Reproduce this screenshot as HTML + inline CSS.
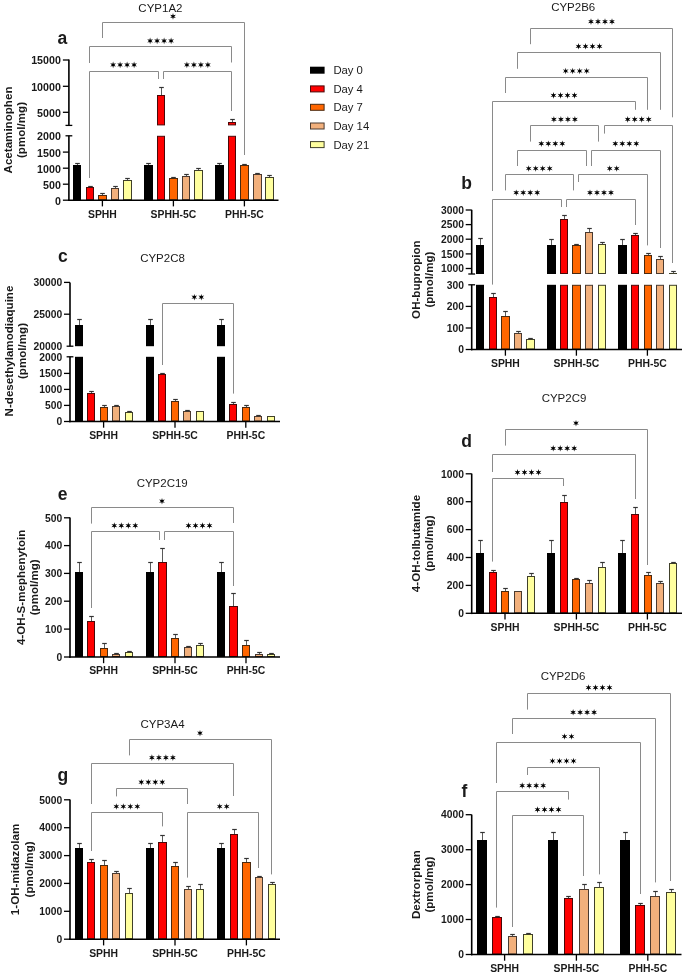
<!DOCTYPE html>
<html><head><meta charset="utf-8"><style>
html,body{margin:0;padding:0;background:#fff;}
body{width:685px;height:978px;overflow:hidden;}
svg{display:block;will-change:transform;font-family:"Liberation Sans",sans-serif;fill:#000;}
svg text{fill:#1a1a1a;}
</style></head><body>
<svg width="685" height="978" viewBox="0 0 685 978">
<rect width="685" height="978" fill="#fff"/>
<rect x="73" y="165" width="8" height="35.2" fill="#000000"/>
<line x1="77.5" y1="163.5" x2="77.5" y2="165" stroke="#5a5a5a" stroke-width="1"/>
<line x1="75.2" y1="163.5" x2="79.8" y2="163.5" stroke="#333333" stroke-width="1.2"/>
<rect x="86.5" y="187.5" width="7" height="12.2" fill="#ff0000" stroke="#4a0808" stroke-width="1"/>
<line x1="90.5" y1="186.5" x2="90.5" y2="187" stroke="#5a5a5a" stroke-width="1"/>
<line x1="88.2" y1="186.5" x2="92.8" y2="186.5" stroke="#333333" stroke-width="1.2"/>
<rect x="98.5" y="195.5" width="8" height="4.2" fill="#ff6600" stroke="#4a2a10" stroke-width="1"/>
<line x1="102.5" y1="193.5" x2="102.5" y2="195" stroke="#5a5a5a" stroke-width="1"/>
<line x1="100.2" y1="193.5" x2="104.8" y2="193.5" stroke="#333333" stroke-width="1.2"/>
<rect x="111.5" y="188.5" width="7" height="11.2" fill="#f2b07c" stroke="#4a3a30" stroke-width="1"/>
<line x1="115.5" y1="186.5" x2="115.5" y2="188" stroke="#5a5a5a" stroke-width="1"/>
<line x1="113.2" y1="186.5" x2="117.8" y2="186.5" stroke="#333333" stroke-width="1.2"/>
<rect x="123.5" y="180.5" width="8" height="19.2" fill="#ffff9e" stroke="#40402a" stroke-width="1"/>
<line x1="127.5" y1="178.5" x2="127.5" y2="180" stroke="#5a5a5a" stroke-width="1"/>
<line x1="125.2" y1="178.5" x2="129.8" y2="178.5" stroke="#333333" stroke-width="1.2"/>
<rect x="144" y="165" width="9" height="35.2" fill="#000000"/>
<line x1="148.5" y1="163.5" x2="148.5" y2="165" stroke="#5a5a5a" stroke-width="1"/>
<line x1="146.2" y1="163.5" x2="150.8" y2="163.5" stroke="#333333" stroke-width="1.2"/>
<rect x="157.5" y="136.3" width="7" height="63.4" fill="#ff0000" stroke="#4a0808" stroke-width="1"/>
<rect x="157.5" y="95.5" width="7" height="29.4" fill="#ff0000" stroke="#4a0808" stroke-width="1"/>
<line x1="161.5" y1="87.5" x2="161.5" y2="95" stroke="#5a5a5a" stroke-width="1"/>
<line x1="159.2" y1="87.5" x2="163.8" y2="87.5" stroke="#333333" stroke-width="1.2"/>
<rect x="169.5" y="178.5" width="8" height="21.2" fill="#ff6600" stroke="#4a2a10" stroke-width="1"/>
<line x1="173.5" y1="177.5" x2="173.5" y2="178" stroke="#5a5a5a" stroke-width="1"/>
<line x1="171.2" y1="177.5" x2="175.8" y2="177.5" stroke="#333333" stroke-width="1.2"/>
<rect x="182.5" y="176.5" width="7" height="23.2" fill="#f2b07c" stroke="#4a3a30" stroke-width="1"/>
<line x1="186.5" y1="174.5" x2="186.5" y2="176" stroke="#5a5a5a" stroke-width="1"/>
<line x1="184.2" y1="174.5" x2="188.8" y2="174.5" stroke="#333333" stroke-width="1.2"/>
<rect x="194.5" y="170.5" width="8" height="29.2" fill="#ffff9e" stroke="#40402a" stroke-width="1"/>
<line x1="198.5" y1="168.5" x2="198.5" y2="170" stroke="#5a5a5a" stroke-width="1"/>
<line x1="196.2" y1="168.5" x2="200.8" y2="168.5" stroke="#333333" stroke-width="1.2"/>
<rect x="215" y="165" width="9" height="35.2" fill="#000000"/>
<line x1="219.5" y1="163.5" x2="219.5" y2="165" stroke="#5a5a5a" stroke-width="1"/>
<line x1="217.2" y1="163.5" x2="221.8" y2="163.5" stroke="#333333" stroke-width="1.2"/>
<rect x="228.5" y="136.3" width="7" height="63.4" fill="#ff0000" stroke="#4a0808" stroke-width="1"/>
<rect x="228.5" y="122.5" width="7" height="2.4" fill="#ff0000" stroke="#4a0808" stroke-width="1"/>
<line x1="232.5" y1="119.5" x2="232.5" y2="122" stroke="#5a5a5a" stroke-width="1"/>
<line x1="230.2" y1="119.5" x2="234.8" y2="119.5" stroke="#333333" stroke-width="1.2"/>
<rect x="240.5" y="165.5" width="8" height="34.2" fill="#ff6600" stroke="#4a2a10" stroke-width="1"/>
<line x1="244.5" y1="164.5" x2="244.5" y2="165" stroke="#5a5a5a" stroke-width="1"/>
<line x1="242.2" y1="164.5" x2="246.8" y2="164.5" stroke="#333333" stroke-width="1.2"/>
<rect x="253.5" y="174.5" width="8" height="25.2" fill="#f2b07c" stroke="#4a3a30" stroke-width="1"/>
<line x1="257.5" y1="173.5" x2="257.5" y2="174" stroke="#5a5a5a" stroke-width="1"/>
<line x1="255.2" y1="173.5" x2="259.8" y2="173.5" stroke="#333333" stroke-width="1.2"/>
<rect x="265.5" y="177.5" width="8" height="22.2" fill="#ffff9e" stroke="#40402a" stroke-width="1"/>
<line x1="269.5" y1="175.5" x2="269.5" y2="177" stroke="#5a5a5a" stroke-width="1"/>
<line x1="267.2" y1="175.5" x2="271.8" y2="175.5" stroke="#333333" stroke-width="1.2"/>
<line x1="68.9" y1="59.6" x2="68.9" y2="125.4" stroke="#000" stroke-width="1.6"/>
<line x1="68.9" y1="135.8" x2="68.9" y2="201" stroke="#000" stroke-width="1.6"/>
<line x1="65.5" y1="125.4" x2="72.3" y2="125.4" stroke="#000" stroke-width="1.3"/>
<line x1="65.5" y1="135.8" x2="72.3" y2="135.8" stroke="#000" stroke-width="1.3"/>
<line x1="68.1" y1="200.2" x2="278.5" y2="200.2" stroke="#000" stroke-width="1.6"/>
<line x1="62.9" y1="60" x2="68.9" y2="60" stroke="#000" stroke-width="1.3"/>
<text x="60.9" y="64.4" font-size="10.7" text-anchor="end" font-weight="bold">15000</text>
<line x1="62.9" y1="86.3" x2="68.9" y2="86.3" stroke="#000" stroke-width="1.3"/>
<text x="60.9" y="90.7" font-size="10.7" text-anchor="end" font-weight="bold">10000</text>
<line x1="62.9" y1="112.3" x2="68.9" y2="112.3" stroke="#000" stroke-width="1.3"/>
<text x="60.9" y="116.7" font-size="10.7" text-anchor="end" font-weight="bold">5000</text>
<text x="60.9" y="140.2" font-size="10.7" text-anchor="end" font-weight="bold">2000</text>
<line x1="62.9" y1="152.1" x2="68.9" y2="152.1" stroke="#000" stroke-width="1.3"/>
<text x="60.9" y="156.5" font-size="10.7" text-anchor="end" font-weight="bold">1500</text>
<line x1="62.9" y1="168.2" x2="68.9" y2="168.2" stroke="#000" stroke-width="1.3"/>
<text x="60.9" y="172.6" font-size="10.7" text-anchor="end" font-weight="bold">1000</text>
<line x1="62.9" y1="184.2" x2="68.9" y2="184.2" stroke="#000" stroke-width="1.3"/>
<text x="60.9" y="188.6" font-size="10.7" text-anchor="end" font-weight="bold">500</text>
<line x1="62.9" y1="200.2" x2="68.9" y2="200.2" stroke="#000" stroke-width="1.3"/>
<text x="60.9" y="204.6" font-size="10.7" text-anchor="end" font-weight="bold">0</text>
<line x1="102.4" y1="200.2" x2="102.4" y2="206.4" stroke="#000" stroke-width="1.3"/>
<text x="102.4" y="217.6" font-size="10.4" text-anchor="middle" font-weight="bold">SPHH</text>
<line x1="173.4" y1="200.2" x2="173.4" y2="206.4" stroke="#000" stroke-width="1.3"/>
<text x="173.4" y="217.6" font-size="10.4" text-anchor="middle" font-weight="bold">SPHH-5C</text>
<line x1="244.4" y1="200.2" x2="244.4" y2="206.4" stroke="#000" stroke-width="1.3"/>
<text x="244.4" y="217.6" font-size="10.4" text-anchor="middle" font-weight="bold">PHH-5C</text>
<path d="M102.5 38V22.5H244.5V155" stroke="#8a8a8a" stroke-width="1" fill="none"/>
<polygon points="173,13.1 172.38,15.32 170.14,14.75 171.75,16.4 170.14,18.05 172.38,17.48 173,19.7 173.62,17.48 175.86,18.05 174.25,16.4 175.86,14.75 173.62,15.32" fill="#000"/>
<path d="M89.5 63V46.5H231.5V62.5" stroke="#8a8a8a" stroke-width="1" fill="none"/>
<polygon points="150.1,37.6 149.47,39.82 147.24,39.25 148.85,40.9 147.24,42.55 149.47,41.98 150.1,44.2 150.72,41.98 152.96,42.55 151.35,40.9 152.96,39.25 150.72,39.82" fill="#000"/>
<polygon points="157.1,37.6 156.47,39.82 154.24,39.25 155.85,40.9 154.24,42.55 156.47,41.98 157.1,44.2 157.72,41.98 159.96,42.55 158.35,40.9 159.96,39.25 157.72,39.82" fill="#000"/>
<polygon points="164.1,37.6 163.47,39.82 161.24,39.25 162.85,40.9 161.24,42.55 163.47,41.98 164.1,44.2 164.72,41.98 166.96,42.55 165.35,40.9 166.96,39.25 164.72,39.82" fill="#000"/>
<polygon points="171.1,37.6 170.47,39.82 168.24,39.25 169.85,40.9 168.24,42.55 170.47,41.98 171.1,44.2 171.72,41.98 173.96,42.55 172.35,40.9 173.96,39.25 171.72,39.82" fill="#000"/>
<path d="M89.5 178V71.5H158.5V79" stroke="#8a8a8a" stroke-width="1" fill="none"/>
<polygon points="113.1,61.6 112.47,63.82 110.24,63.25 111.85,64.9 110.24,66.55 112.47,65.98 113.1,68.2 113.72,65.98 115.96,66.55 114.35,64.9 115.96,63.25 113.72,63.82" fill="#000"/>
<polygon points="120.1,61.6 119.47,63.82 117.24,63.25 118.85,64.9 117.24,66.55 119.47,65.98 120.1,68.2 120.72,65.98 122.96,66.55 121.35,64.9 122.96,63.25 120.72,63.82" fill="#000"/>
<polygon points="127.1,61.6 126.47,63.82 124.24,63.25 125.85,64.9 124.24,66.55 126.47,65.98 127.1,68.2 127.72,65.98 129.96,66.55 128.35,64.9 129.96,63.25 127.72,63.82" fill="#000"/>
<polygon points="134.1,61.6 133.47,63.82 131.24,63.25 132.85,64.9 131.24,66.55 133.47,65.98 134.1,68.2 134.72,65.98 136.96,66.55 135.35,64.9 136.96,63.25 134.72,63.82" fill="#000"/>
<path d="M163.5 79V71.5H231.5V111" stroke="#8a8a8a" stroke-width="1" fill="none"/>
<polygon points="186.9,61.6 186.28,63.82 184.04,63.25 185.65,64.9 184.04,66.55 186.28,65.98 186.9,68.2 187.53,65.98 189.76,66.55 188.15,64.9 189.76,63.25 187.53,63.82" fill="#000"/>
<polygon points="193.9,61.6 193.28,63.82 191.04,63.25 192.65,64.9 191.04,66.55 193.28,65.98 193.9,68.2 194.53,65.98 196.76,66.55 195.15,64.9 196.76,63.25 194.53,63.82" fill="#000"/>
<polygon points="200.9,61.6 200.28,63.82 198.04,63.25 199.65,64.9 198.04,66.55 200.28,65.98 200.9,68.2 201.53,65.98 203.76,66.55 202.15,64.9 203.76,63.25 201.53,63.82" fill="#000"/>
<polygon points="207.9,61.6 207.28,63.82 205.04,63.25 206.65,64.9 205.04,66.55 207.28,65.98 207.9,68.2 208.53,65.98 210.76,66.55 209.15,64.9 210.76,63.25 208.53,63.82" fill="#000"/>
<text x="160.4" y="11.5" font-size="11.5" text-anchor="middle">CYP1A2</text>
<text x="57.6" y="44" font-size="17.5" text-anchor="start" font-weight="bold">a</text>
<text transform="translate(11.5,130) rotate(-90)" font-size="11.6" text-anchor="middle" font-weight="bold">Acetaminophen</text>
<text transform="translate(24.5,130) rotate(-90)" font-size="11.6" text-anchor="middle" font-weight="bold">(pmol/mg)</text>
<rect x="476" y="284.8" width="8" height="64.7" fill="#000000"/>
<rect x="476" y="245" width="8" height="29" fill="#000000"/>
<line x1="480.5" y1="238.5" x2="480.5" y2="245" stroke="#5a5a5a" stroke-width="1"/>
<line x1="478.2" y1="238.5" x2="482.8" y2="238.5" stroke="#333333" stroke-width="1.2"/>
<rect x="489.5" y="297.5" width="7" height="51.5" fill="#ff0000" stroke="#4a0808" stroke-width="1"/>
<line x1="493.5" y1="293.5" x2="493.5" y2="297" stroke="#5a5a5a" stroke-width="1"/>
<line x1="491.2" y1="293.5" x2="495.8" y2="293.5" stroke="#333333" stroke-width="1.2"/>
<rect x="501.5" y="316.5" width="8" height="32.5" fill="#ff6600" stroke="#4a2a10" stroke-width="1"/>
<line x1="505.5" y1="311.5" x2="505.5" y2="316" stroke="#5a5a5a" stroke-width="1"/>
<line x1="503.2" y1="311.5" x2="507.8" y2="311.5" stroke="#333333" stroke-width="1.2"/>
<rect x="514.5" y="333.5" width="7" height="15.5" fill="#f2b07c" stroke="#4a3a30" stroke-width="1"/>
<line x1="518.5" y1="331.5" x2="518.5" y2="333" stroke="#5a5a5a" stroke-width="1"/>
<line x1="516.2" y1="331.5" x2="520.8" y2="331.5" stroke="#333333" stroke-width="1.2"/>
<rect x="526.5" y="339.5" width="8" height="9.5" fill="#ffff9e" stroke="#40402a" stroke-width="1"/>
<line x1="530.5" y1="338.5" x2="530.5" y2="339" stroke="#5a5a5a" stroke-width="1"/>
<line x1="528.2" y1="338.5" x2="532.8" y2="338.5" stroke="#333333" stroke-width="1.2"/>
<rect x="547" y="284.8" width="9" height="64.7" fill="#000000"/>
<rect x="547" y="245" width="9" height="29" fill="#000000"/>
<line x1="551.5" y1="239.5" x2="551.5" y2="245" stroke="#5a5a5a" stroke-width="1"/>
<line x1="549.2" y1="239.5" x2="553.8" y2="239.5" stroke="#333333" stroke-width="1.2"/>
<rect x="560.5" y="285.3" width="7" height="63.7" fill="#ff0000" stroke="#4a0808" stroke-width="1"/>
<rect x="560.5" y="219.5" width="7" height="54" fill="#ff0000" stroke="#4a0808" stroke-width="1"/>
<line x1="564.5" y1="215.5" x2="564.5" y2="219" stroke="#5a5a5a" stroke-width="1"/>
<line x1="562.2" y1="215.5" x2="566.8" y2="215.5" stroke="#333333" stroke-width="1.2"/>
<rect x="572.5" y="285.3" width="8" height="63.7" fill="#ff6600" stroke="#4a2a10" stroke-width="1"/>
<rect x="572.5" y="245.5" width="8" height="28" fill="#ff6600" stroke="#4a2a10" stroke-width="1"/>
<line x1="576.5" y1="244.5" x2="576.5" y2="245" stroke="#5a5a5a" stroke-width="1"/>
<line x1="574.2" y1="244.5" x2="578.8" y2="244.5" stroke="#333333" stroke-width="1.2"/>
<rect x="585.5" y="285.3" width="7" height="63.7" fill="#f2b07c" stroke="#4a3a30" stroke-width="1"/>
<rect x="585.5" y="232.5" width="7" height="41" fill="#f2b07c" stroke="#4a3a30" stroke-width="1"/>
<line x1="589.5" y1="228.5" x2="589.5" y2="232" stroke="#5a5a5a" stroke-width="1"/>
<line x1="587.2" y1="228.5" x2="591.8" y2="228.5" stroke="#333333" stroke-width="1.2"/>
<rect x="598.5" y="285.3" width="7" height="63.7" fill="#ffff9e" stroke="#40402a" stroke-width="1"/>
<rect x="598.5" y="244.5" width="7" height="29" fill="#ffff9e" stroke="#40402a" stroke-width="1"/>
<line x1="602.5" y1="242.5" x2="602.5" y2="244" stroke="#5a5a5a" stroke-width="1"/>
<line x1="600.2" y1="242.5" x2="604.8" y2="242.5" stroke="#333333" stroke-width="1.2"/>
<rect x="618" y="284.8" width="9" height="64.7" fill="#000000"/>
<rect x="618" y="245" width="9" height="29" fill="#000000"/>
<line x1="622.5" y1="239.5" x2="622.5" y2="245" stroke="#5a5a5a" stroke-width="1"/>
<line x1="620.2" y1="239.5" x2="624.8" y2="239.5" stroke="#333333" stroke-width="1.2"/>
<rect x="631.5" y="285.3" width="7" height="63.7" fill="#ff0000" stroke="#4a0808" stroke-width="1"/>
<rect x="631.5" y="235.5" width="7" height="38" fill="#ff0000" stroke="#4a0808" stroke-width="1"/>
<line x1="635.5" y1="233.5" x2="635.5" y2="235" stroke="#5a5a5a" stroke-width="1"/>
<line x1="633.2" y1="233.5" x2="637.8" y2="233.5" stroke="#333333" stroke-width="1.2"/>
<rect x="644.5" y="285.3" width="7" height="63.7" fill="#ff6600" stroke="#4a2a10" stroke-width="1"/>
<rect x="644.5" y="255.5" width="7" height="18" fill="#ff6600" stroke="#4a2a10" stroke-width="1"/>
<line x1="648.5" y1="253.5" x2="648.5" y2="255" stroke="#5a5a5a" stroke-width="1"/>
<line x1="646.2" y1="253.5" x2="650.8" y2="253.5" stroke="#333333" stroke-width="1.2"/>
<rect x="656.5" y="285.3" width="7" height="63.7" fill="#f2b07c" stroke="#4a3a30" stroke-width="1"/>
<rect x="656.5" y="259.5" width="7" height="14" fill="#f2b07c" stroke="#4a3a30" stroke-width="1"/>
<line x1="660.5" y1="256.5" x2="660.5" y2="259" stroke="#5a5a5a" stroke-width="1"/>
<line x1="658.2" y1="256.5" x2="662.8" y2="256.5" stroke="#333333" stroke-width="1.2"/>
<rect x="669.5" y="285.3" width="7" height="63.7" fill="#ffff9e" stroke="#40402a" stroke-width="1"/>
<rect x="669.5" y="273.5" width="7" height="0.01" fill="#ffff9e" stroke="#40402a" stroke-width="1"/>
<line x1="673.5" y1="271.5" x2="673.5" y2="273" stroke="#5a5a5a" stroke-width="1"/>
<line x1="671.2" y1="271.5" x2="675.8" y2="271.5" stroke="#333333" stroke-width="1.2"/>
<line x1="471.7" y1="209.8" x2="471.7" y2="274" stroke="#000" stroke-width="1.6"/>
<line x1="471.7" y1="284.8" x2="471.7" y2="350.3" stroke="#000" stroke-width="1.6"/>
<line x1="468.3" y1="274" x2="475.1" y2="274" stroke="#000" stroke-width="1.3"/>
<line x1="468.3" y1="284.8" x2="475.1" y2="284.8" stroke="#000" stroke-width="1.3"/>
<line x1="470.9" y1="349.5" x2="682" y2="349.5" stroke="#000" stroke-width="1.6"/>
<line x1="465.7" y1="210" x2="471.7" y2="210" stroke="#000" stroke-width="1.3"/>
<text x="463.9" y="213.7" font-size="10.3" text-anchor="end" font-weight="bold">3000</text>
<line x1="465.7" y1="224.6" x2="471.7" y2="224.6" stroke="#000" stroke-width="1.3"/>
<text x="463.9" y="228.3" font-size="10.3" text-anchor="end" font-weight="bold">2500</text>
<line x1="465.7" y1="239.2" x2="471.7" y2="239.2" stroke="#000" stroke-width="1.3"/>
<text x="463.9" y="242.9" font-size="10.3" text-anchor="end" font-weight="bold">2000</text>
<line x1="465.7" y1="253.9" x2="471.7" y2="253.9" stroke="#000" stroke-width="1.3"/>
<text x="463.9" y="257.6" font-size="10.3" text-anchor="end" font-weight="bold">1500</text>
<line x1="465.7" y1="268.5" x2="471.7" y2="268.5" stroke="#000" stroke-width="1.3"/>
<text x="463.9" y="272.2" font-size="10.3" text-anchor="end" font-weight="bold">1000</text>
<text x="463.9" y="288.5" font-size="10.3" text-anchor="end" font-weight="bold">300</text>
<line x1="465.7" y1="306.4" x2="471.7" y2="306.4" stroke="#000" stroke-width="1.3"/>
<text x="463.9" y="310.1" font-size="10.3" text-anchor="end" font-weight="bold">200</text>
<line x1="465.7" y1="328" x2="471.7" y2="328" stroke="#000" stroke-width="1.3"/>
<text x="463.9" y="331.7" font-size="10.3" text-anchor="end" font-weight="bold">100</text>
<line x1="465.7" y1="349.5" x2="471.7" y2="349.5" stroke="#000" stroke-width="1.3"/>
<text x="463.9" y="353.2" font-size="10.3" text-anchor="end" font-weight="bold">0</text>
<line x1="505.4" y1="349.5" x2="505.4" y2="355.7" stroke="#000" stroke-width="1.3"/>
<text x="505.4" y="366.9" font-size="10.4" text-anchor="middle" font-weight="bold">SPHH</text>
<line x1="576.4" y1="349.5" x2="576.4" y2="355.7" stroke="#000" stroke-width="1.3"/>
<text x="576.4" y="366.9" font-size="10.4" text-anchor="middle" font-weight="bold">SPHH-5C</text>
<line x1="647.4" y1="349.5" x2="647.4" y2="355.7" stroke="#000" stroke-width="1.3"/>
<text x="647.4" y="366.9" font-size="10.4" text-anchor="middle" font-weight="bold">PHH-5C</text>
<path d="M530.5 44.2V28.5H672.5V117.3" stroke="#8a8a8a" stroke-width="1" fill="none"/>
<polygon points="591,18.3 590.38,20.52 588.14,19.95 589.75,21.6 588.14,23.25 590.38,22.68 591,24.9 591.62,22.68 593.86,23.25 592.25,21.6 593.86,19.95 591.62,20.52" fill="#000"/>
<polygon points="598,18.3 597.38,20.52 595.14,19.95 596.75,21.6 595.14,23.25 597.38,22.68 598,24.9 598.62,22.68 600.86,23.25 599.25,21.6 600.86,19.95 598.62,20.52" fill="#000"/>
<polygon points="605,18.3 604.38,20.52 602.14,19.95 603.75,21.6 602.14,23.25 604.38,22.68 605,24.9 605.62,22.68 607.86,23.25 606.25,21.6 607.86,19.95 605.62,20.52" fill="#000"/>
<polygon points="612,18.3 611.38,20.52 609.14,19.95 610.75,21.6 609.14,23.25 611.38,22.68 612,24.9 612.62,22.68 614.86,23.25 613.25,21.6 614.86,19.95 612.62,20.52" fill="#000"/>
<path d="M517.5 68.8V52.5H660.5V109.8" stroke="#8a8a8a" stroke-width="1" fill="none"/>
<polygon points="578.5,43 577.88,45.22 575.64,44.65 577.25,46.3 575.64,47.95 577.88,47.38 578.5,49.6 579.12,47.38 581.36,47.95 579.75,46.3 581.36,44.65 579.12,45.22" fill="#000"/>
<polygon points="585.5,43 584.88,45.22 582.64,44.65 584.25,46.3 582.64,47.95 584.88,47.38 585.5,49.6 586.12,47.38 588.36,47.95 586.75,46.3 588.36,44.65 586.12,45.22" fill="#000"/>
<polygon points="592.5,43 591.88,45.22 589.64,44.65 591.25,46.3 589.64,47.95 591.88,47.38 592.5,49.6 593.12,47.38 595.36,47.95 593.75,46.3 595.36,44.65 593.12,45.22" fill="#000"/>
<polygon points="599.5,43 598.88,45.22 596.64,44.65 598.25,46.3 596.64,47.95 598.88,47.38 599.5,49.6 600.12,47.38 602.36,47.95 600.75,46.3 602.36,44.65 600.12,45.22" fill="#000"/>
<path d="M505.5 93V77.5H647.5V109.8" stroke="#8a8a8a" stroke-width="1" fill="none"/>
<polygon points="565.7,67.7 565.08,69.92 562.84,69.35 564.45,71 562.84,72.65 565.08,72.08 565.7,74.3 566.33,72.08 568.56,72.65 566.95,71 568.56,69.35 566.33,69.92" fill="#000"/>
<polygon points="572.7,67.7 572.08,69.92 569.84,69.35 571.45,71 569.84,72.65 572.08,72.08 572.7,74.3 573.33,72.08 575.56,72.65 573.95,71 575.56,69.35 573.33,69.92" fill="#000"/>
<polygon points="579.7,67.7 579.08,69.92 576.84,69.35 578.45,71 576.84,72.65 579.08,72.08 579.7,74.3 580.33,72.08 582.56,72.65 580.95,71 582.56,69.35 580.33,69.92" fill="#000"/>
<polygon points="586.7,67.7 586.08,69.92 583.84,69.35 585.45,71 583.84,72.65 586.08,72.08 586.7,74.3 587.33,72.08 589.56,72.65 587.95,71 589.56,69.35 587.33,69.92" fill="#000"/>
<path d="M492.5 191V101.5H635.5V109.8" stroke="#8a8a8a" stroke-width="1" fill="none"/>
<polygon points="553.5,92.1 552.88,94.32 550.64,93.75 552.25,95.4 550.64,97.05 552.88,96.48 553.5,98.7 554.12,96.48 556.36,97.05 554.75,95.4 556.36,93.75 554.12,94.32" fill="#000"/>
<polygon points="560.5,92.1 559.88,94.32 557.64,93.75 559.25,95.4 557.64,97.05 559.88,96.48 560.5,98.7 561.12,96.48 563.36,97.05 561.75,95.4 563.36,93.75 561.12,94.32" fill="#000"/>
<polygon points="567.5,92.1 566.88,94.32 564.64,93.75 566.25,95.4 564.64,97.05 566.88,96.48 567.5,98.7 568.12,96.48 570.36,97.05 568.75,95.4 570.36,93.75 568.12,94.32" fill="#000"/>
<polygon points="574.5,92.1 573.88,94.32 571.64,93.75 573.25,95.4 571.64,97.05 573.88,96.48 574.5,98.7 575.12,96.48 577.36,97.05 575.75,95.4 577.36,93.75 575.12,94.32" fill="#000"/>
<path d="M530.5 141.6V125.5H598.5V141.6" stroke="#8a8a8a" stroke-width="1" fill="none"/>
<polygon points="553.9,116.1 553.27,118.32 551.04,117.75 552.65,119.4 551.04,121.05 553.27,120.48 553.9,122.7 554.52,120.48 556.76,121.05 555.15,119.4 556.76,117.75 554.52,118.32" fill="#000"/>
<polygon points="560.9,116.1 560.27,118.32 558.04,117.75 559.65,119.4 558.04,121.05 560.27,120.48 560.9,122.7 561.52,120.48 563.76,121.05 562.15,119.4 563.76,117.75 561.52,118.32" fill="#000"/>
<polygon points="567.9,116.1 567.27,118.32 565.04,117.75 566.65,119.4 565.04,121.05 567.27,120.48 567.9,122.7 568.52,120.48 570.76,121.05 569.15,119.4 570.76,117.75 568.52,118.32" fill="#000"/>
<polygon points="574.9,116.1 574.27,118.32 572.04,117.75 573.65,119.4 572.04,121.05 574.27,120.48 574.9,122.7 575.52,120.48 577.76,121.05 576.15,119.4 577.76,117.75 575.52,118.32" fill="#000"/>
<path d="M604.5 133.6V125.5H672.5V263" stroke="#8a8a8a" stroke-width="1" fill="none"/>
<polygon points="627.7,116.1 627.08,118.32 624.84,117.75 626.45,119.4 624.84,121.05 627.08,120.48 627.7,122.7 628.33,120.48 630.56,121.05 628.95,119.4 630.56,117.75 628.33,118.32" fill="#000"/>
<polygon points="634.7,116.1 634.08,118.32 631.84,117.75 633.45,119.4 631.84,121.05 634.08,120.48 634.7,122.7 635.33,120.48 637.56,121.05 635.95,119.4 637.56,117.75 635.33,118.32" fill="#000"/>
<polygon points="641.7,116.1 641.08,118.32 638.84,117.75 640.45,119.4 638.84,121.05 641.08,120.48 641.7,122.7 642.33,120.48 644.56,121.05 642.95,119.4 644.56,117.75 642.33,118.32" fill="#000"/>
<polygon points="648.7,116.1 648.08,118.32 645.84,117.75 647.45,119.4 645.84,121.05 648.08,120.48 648.7,122.7 649.33,120.48 651.56,121.05 649.95,119.4 651.56,117.75 649.33,118.32" fill="#000"/>
<path d="M517.5 166V150.5H586.5V166" stroke="#8a8a8a" stroke-width="1" fill="none"/>
<polygon points="541.3,140.4 540.67,142.62 538.44,142.05 540.05,143.7 538.44,145.35 540.67,144.78 541.3,147 541.92,144.78 544.16,145.35 542.55,143.7 544.16,142.05 541.92,142.62" fill="#000"/>
<polygon points="548.3,140.4 547.67,142.62 545.44,142.05 547.05,143.7 545.44,145.35 547.67,144.78 548.3,147 548.92,144.78 551.16,145.35 549.55,143.7 551.16,142.05 548.92,142.62" fill="#000"/>
<polygon points="555.3,140.4 554.67,142.62 552.44,142.05 554.05,143.7 552.44,145.35 554.67,144.78 555.3,147 555.92,144.78 558.16,145.35 556.55,143.7 558.16,142.05 555.92,142.62" fill="#000"/>
<polygon points="562.3,140.4 561.67,142.62 559.44,142.05 561.05,143.7 559.44,145.35 561.67,144.78 562.3,147 562.92,144.78 565.16,145.35 563.55,143.7 565.16,142.05 562.92,142.62" fill="#000"/>
<path d="M591.5 166V150.5H660.5V248" stroke="#8a8a8a" stroke-width="1" fill="none"/>
<polygon points="615.3,140.4 614.67,142.62 612.44,142.05 614.05,143.7 612.44,145.35 614.67,144.78 615.3,147 615.92,144.78 618.16,145.35 616.55,143.7 618.16,142.05 615.92,142.62" fill="#000"/>
<polygon points="622.3,140.4 621.67,142.62 619.44,142.05 621.05,143.7 619.44,145.35 621.67,144.78 622.3,147 622.92,144.78 625.16,145.35 623.55,143.7 625.16,142.05 622.92,142.62" fill="#000"/>
<polygon points="629.3,140.4 628.67,142.62 626.44,142.05 628.05,143.7 626.44,145.35 628.67,144.78 629.3,147 629.92,144.78 632.16,145.35 630.55,143.7 632.16,142.05 629.92,142.62" fill="#000"/>
<polygon points="636.3,140.4 635.67,142.62 633.44,142.05 635.05,143.7 633.44,145.35 635.67,144.78 636.3,147 636.92,144.78 639.16,145.35 637.55,143.7 639.16,142.05 636.92,142.62" fill="#000"/>
<path d="M505.5 190.4V174.5H573.5V190.4" stroke="#8a8a8a" stroke-width="1" fill="none"/>
<polygon points="528.7,165.2 528.08,167.42 525.84,166.85 527.45,168.5 525.84,170.15 528.08,169.58 528.7,171.8 529.33,169.58 531.56,170.15 529.95,168.5 531.56,166.85 529.33,167.42" fill="#000"/>
<polygon points="535.7,165.2 535.08,167.42 532.84,166.85 534.45,168.5 532.84,170.15 535.08,169.58 535.7,171.8 536.33,169.58 538.56,170.15 536.95,168.5 538.56,166.85 536.33,167.42" fill="#000"/>
<polygon points="542.7,165.2 542.08,167.42 539.84,166.85 541.45,168.5 539.84,170.15 542.08,169.58 542.7,171.8 543.33,169.58 545.56,170.15 543.95,168.5 545.56,166.85 543.33,167.42" fill="#000"/>
<polygon points="549.7,165.2 549.08,167.42 546.84,166.85 548.45,168.5 546.84,170.15 549.08,169.58 549.7,171.8 550.33,169.58 552.56,170.15 550.95,168.5 552.56,166.85 550.33,167.42" fill="#000"/>
<path d="M578.5 182V174.5H647.5V245.4" stroke="#8a8a8a" stroke-width="1" fill="none"/>
<polygon points="609.7,165.2 609.08,167.42 606.84,166.85 608.45,168.5 606.84,170.15 609.08,169.58 609.7,171.8 610.33,169.58 612.56,170.15 610.95,168.5 612.56,166.85 610.33,167.42" fill="#000"/>
<polygon points="616.7,165.2 616.08,167.42 613.84,166.85 615.45,168.5 613.84,170.15 616.08,169.58 616.7,171.8 617.33,169.58 619.56,170.15 617.95,168.5 619.56,166.85 617.33,167.42" fill="#000"/>
<path d="M492.5 284.6V199.5H561.5V207" stroke="#8a8a8a" stroke-width="1" fill="none"/>
<polygon points="516.2,189.4 515.58,191.62 513.34,191.05 514.95,192.7 513.34,194.35 515.58,193.78 516.2,196 516.83,193.78 519.06,194.35 517.45,192.7 519.06,191.05 516.83,191.62" fill="#000"/>
<polygon points="523.2,189.4 522.58,191.62 520.34,191.05 521.95,192.7 520.34,194.35 522.58,193.78 523.2,196 523.83,193.78 526.06,194.35 524.45,192.7 526.06,191.05 523.83,191.62" fill="#000"/>
<polygon points="530.2,189.4 529.58,191.62 527.34,191.05 528.95,192.7 527.34,194.35 529.58,193.78 530.2,196 530.83,193.78 533.06,194.35 531.45,192.7 533.06,191.05 530.83,191.62" fill="#000"/>
<polygon points="537.2,189.4 536.58,191.62 534.34,191.05 535.95,192.7 534.34,194.35 536.58,193.78 537.2,196 537.83,193.78 540.06,194.35 538.45,192.7 540.06,191.05 537.83,191.62" fill="#000"/>
<path d="M566.5 207V199.5H635.5V225" stroke="#8a8a8a" stroke-width="1" fill="none"/>
<polygon points="590,189.4 589.38,191.62 587.14,191.05 588.75,192.7 587.14,194.35 589.38,193.78 590,196 590.62,193.78 592.86,194.35 591.25,192.7 592.86,191.05 590.62,191.62" fill="#000"/>
<polygon points="597,189.4 596.38,191.62 594.14,191.05 595.75,192.7 594.14,194.35 596.38,193.78 597,196 597.62,193.78 599.86,194.35 598.25,192.7 599.86,191.05 597.62,191.62" fill="#000"/>
<polygon points="604,189.4 603.38,191.62 601.14,191.05 602.75,192.7 601.14,194.35 603.38,193.78 604,196 604.62,193.78 606.86,194.35 605.25,192.7 606.86,191.05 604.62,191.62" fill="#000"/>
<polygon points="611,189.4 610.38,191.62 608.14,191.05 609.75,192.7 608.14,194.35 610.38,193.78 611,196 611.62,193.78 613.86,194.35 612.25,192.7 613.86,191.05 611.62,191.62" fill="#000"/>
<text x="573.2" y="11.2" font-size="11.5" text-anchor="middle">CYP2B6</text>
<text x="461.2" y="188.8" font-size="17.5" text-anchor="start" font-weight="bold">b</text>
<text transform="translate(420.2,279.6) rotate(-90)" font-size="11.6" text-anchor="middle" font-weight="bold">OH-bupropion</text>
<text transform="translate(433.3,279.6) rotate(-90)" font-size="11.6" text-anchor="middle" font-weight="bold">(pmol/mg)</text>
<rect x="75" y="356.8" width="8" height="64.7" fill="#000000"/>
<rect x="75" y="325" width="8" height="21.2" fill="#000000"/>
<line x1="79.5" y1="319.5" x2="79.5" y2="325" stroke="#5a5a5a" stroke-width="1"/>
<line x1="77.2" y1="319.5" x2="81.8" y2="319.5" stroke="#333333" stroke-width="1.2"/>
<rect x="87.5" y="393.5" width="7" height="27.5" fill="#ff0000" stroke="#4a0808" stroke-width="1"/>
<line x1="91.5" y1="391.5" x2="91.5" y2="393" stroke="#5a5a5a" stroke-width="1"/>
<line x1="89.2" y1="391.5" x2="93.8" y2="391.5" stroke="#333333" stroke-width="1.2"/>
<rect x="100.5" y="407.5" width="7" height="13.5" fill="#ff6600" stroke="#4a2a10" stroke-width="1"/>
<line x1="104.5" y1="405.5" x2="104.5" y2="407" stroke="#5a5a5a" stroke-width="1"/>
<line x1="102.2" y1="405.5" x2="106.8" y2="405.5" stroke="#333333" stroke-width="1.2"/>
<rect x="112.5" y="406.5" width="7" height="14.5" fill="#f2b07c" stroke="#4a3a30" stroke-width="1"/>
<line x1="116.5" y1="405.5" x2="116.5" y2="406" stroke="#5a5a5a" stroke-width="1"/>
<line x1="114.2" y1="405.5" x2="118.8" y2="405.5" stroke="#333333" stroke-width="1.2"/>
<rect x="125.5" y="412.5" width="7" height="8.5" fill="#ffff9e" stroke="#40402a" stroke-width="1"/>
<line x1="129.5" y1="411.5" x2="129.5" y2="412" stroke="#5a5a5a" stroke-width="1"/>
<line x1="127.2" y1="411.5" x2="131.8" y2="411.5" stroke="#333333" stroke-width="1.2"/>
<rect x="146" y="356.8" width="8" height="64.7" fill="#000000"/>
<rect x="146" y="325" width="8" height="21.2" fill="#000000"/>
<line x1="150.5" y1="319.5" x2="150.5" y2="325" stroke="#5a5a5a" stroke-width="1"/>
<line x1="148.2" y1="319.5" x2="152.8" y2="319.5" stroke="#333333" stroke-width="1.2"/>
<rect x="158.5" y="374.5" width="7" height="46.5" fill="#ff0000" stroke="#4a0808" stroke-width="1"/>
<line x1="162.5" y1="373.5" x2="162.5" y2="374" stroke="#5a5a5a" stroke-width="1"/>
<line x1="160.2" y1="373.5" x2="164.8" y2="373.5" stroke="#333333" stroke-width="1.2"/>
<rect x="171.5" y="401.5" width="7" height="19.5" fill="#ff6600" stroke="#4a2a10" stroke-width="1"/>
<line x1="175.5" y1="399.5" x2="175.5" y2="401" stroke="#5a5a5a" stroke-width="1"/>
<line x1="173.2" y1="399.5" x2="177.8" y2="399.5" stroke="#333333" stroke-width="1.2"/>
<rect x="183.5" y="411.5" width="7" height="9.5" fill="#f2b07c" stroke="#4a3a30" stroke-width="1"/>
<line x1="187.5" y1="410.5" x2="187.5" y2="411" stroke="#5a5a5a" stroke-width="1"/>
<line x1="185.2" y1="410.5" x2="189.8" y2="410.5" stroke="#333333" stroke-width="1.2"/>
<rect x="196.5" y="411.5" width="7" height="9.5" fill="#ffff9e" stroke="#40402a" stroke-width="1"/>
<rect x="217" y="356.8" width="8" height="64.7" fill="#000000"/>
<rect x="217" y="325" width="8" height="21.2" fill="#000000"/>
<line x1="221.5" y1="319.5" x2="221.5" y2="325" stroke="#5a5a5a" stroke-width="1"/>
<line x1="219.2" y1="319.5" x2="223.8" y2="319.5" stroke="#333333" stroke-width="1.2"/>
<rect x="229.5" y="404.5" width="7" height="16.5" fill="#ff0000" stroke="#4a0808" stroke-width="1"/>
<line x1="233.5" y1="402.5" x2="233.5" y2="404" stroke="#5a5a5a" stroke-width="1"/>
<line x1="231.2" y1="402.5" x2="235.8" y2="402.5" stroke="#333333" stroke-width="1.2"/>
<rect x="242.5" y="407.5" width="7" height="13.5" fill="#ff6600" stroke="#4a2a10" stroke-width="1"/>
<line x1="246.5" y1="405.5" x2="246.5" y2="407" stroke="#5a5a5a" stroke-width="1"/>
<line x1="244.2" y1="405.5" x2="248.8" y2="405.5" stroke="#333333" stroke-width="1.2"/>
<rect x="254.5" y="416.5" width="7" height="4.5" fill="#f2b07c" stroke="#4a3a30" stroke-width="1"/>
<line x1="258.5" y1="415.5" x2="258.5" y2="416" stroke="#5a5a5a" stroke-width="1"/>
<line x1="256.2" y1="415.5" x2="260.8" y2="415.5" stroke="#333333" stroke-width="1.2"/>
<rect x="267.5" y="416.5" width="7" height="4.5" fill="#ffff9e" stroke="#40402a" stroke-width="1"/>
<line x1="70" y1="282.4" x2="70" y2="346.2" stroke="#000" stroke-width="1.6"/>
<line x1="70" y1="356.8" x2="70" y2="422.3" stroke="#000" stroke-width="1.6"/>
<line x1="66.6" y1="346.2" x2="73.4" y2="346.2" stroke="#000" stroke-width="1.3"/>
<line x1="66.6" y1="356.8" x2="73.4" y2="356.8" stroke="#000" stroke-width="1.3"/>
<line x1="69.2" y1="421.5" x2="280" y2="421.5" stroke="#000" stroke-width="1.6"/>
<line x1="64" y1="282.4" x2="70" y2="282.4" stroke="#000" stroke-width="1.3"/>
<text x="62.2" y="286.1" font-size="10.3" text-anchor="end" font-weight="bold">30000</text>
<line x1="64" y1="314.2" x2="70" y2="314.2" stroke="#000" stroke-width="1.3"/>
<text x="62.2" y="317.9" font-size="10.3" text-anchor="end" font-weight="bold">25000</text>
<text x="62.2" y="349.9" font-size="10.3" text-anchor="end" font-weight="bold">20000</text>
<text x="62.2" y="360.5" font-size="10.3" text-anchor="end" font-weight="bold">2000</text>
<line x1="64" y1="373.4" x2="70" y2="373.4" stroke="#000" stroke-width="1.3"/>
<text x="62.2" y="377.1" font-size="10.3" text-anchor="end" font-weight="bold">1500</text>
<line x1="64" y1="389.4" x2="70" y2="389.4" stroke="#000" stroke-width="1.3"/>
<text x="62.2" y="393.1" font-size="10.3" text-anchor="end" font-weight="bold">1000</text>
<line x1="64" y1="405.4" x2="70" y2="405.4" stroke="#000" stroke-width="1.3"/>
<text x="62.2" y="409.1" font-size="10.3" text-anchor="end" font-weight="bold">500</text>
<line x1="64" y1="421.5" x2="70" y2="421.5" stroke="#000" stroke-width="1.3"/>
<text x="62.2" y="425.2" font-size="10.3" text-anchor="end" font-weight="bold">0</text>
<line x1="103.6" y1="421.5" x2="103.6" y2="427.7" stroke="#000" stroke-width="1.3"/>
<text x="103.6" y="438.9" font-size="10.4" text-anchor="middle" font-weight="bold">SPHH</text>
<line x1="175" y1="421.5" x2="175" y2="427.7" stroke="#000" stroke-width="1.3"/>
<text x="175" y="438.9" font-size="10.4" text-anchor="middle" font-weight="bold">SPHH-5C</text>
<line x1="245.8" y1="421.5" x2="245.8" y2="427.7" stroke="#000" stroke-width="1.3"/>
<text x="245.8" y="438.9" font-size="10.4" text-anchor="middle" font-weight="bold">PHH-5C</text>
<path d="M162.5 365V303.5H233.5V393.6" stroke="#8a8a8a" stroke-width="1" fill="none"/>
<polygon points="194.3,293.9 193.68,296.12 191.44,295.55 193.05,297.2 191.44,298.85 193.68,298.28 194.3,300.5 194.93,298.28 197.16,298.85 195.55,297.2 197.16,295.55 194.93,296.12" fill="#000"/>
<polygon points="201.3,293.9 200.68,296.12 198.44,295.55 200.05,297.2 198.44,298.85 200.68,298.28 201.3,300.5 201.93,298.28 204.16,298.85 202.55,297.2 204.16,295.55 201.93,296.12" fill="#000"/>
<text x="162.5" y="262" font-size="11.5" text-anchor="middle">CYP2C8</text>
<text x="57.9" y="262.3" font-size="17.5" text-anchor="start" font-weight="bold">c</text>
<text transform="translate(12.5,351) rotate(-90)" font-size="11.6" text-anchor="middle" font-weight="bold">N-desethylamodiaquine</text>
<text transform="translate(25.8,351) rotate(-90)" font-size="11.6" text-anchor="middle" font-weight="bold">(pmol/mg)</text>
<rect x="476" y="553" width="8" height="60.3" fill="#000000"/>
<line x1="480.5" y1="540.5" x2="480.5" y2="553" stroke="#5a5a5a" stroke-width="1"/>
<line x1="478.2" y1="540.5" x2="482.8" y2="540.5" stroke="#333333" stroke-width="1.2"/>
<rect x="489.5" y="572.5" width="7" height="40.3" fill="#ff0000" stroke="#4a0808" stroke-width="1"/>
<line x1="493.5" y1="570.5" x2="493.5" y2="572" stroke="#5a5a5a" stroke-width="1"/>
<line x1="491.2" y1="570.5" x2="495.8" y2="570.5" stroke="#333333" stroke-width="1.2"/>
<rect x="501.5" y="591.5" width="7" height="21.3" fill="#ff6600" stroke="#4a2a10" stroke-width="1"/>
<line x1="505.5" y1="588.5" x2="505.5" y2="591" stroke="#5a5a5a" stroke-width="1"/>
<line x1="503.2" y1="588.5" x2="507.8" y2="588.5" stroke="#333333" stroke-width="1.2"/>
<rect x="514.5" y="591.5" width="7" height="21.3" fill="#f2b07c" stroke="#4a3a30" stroke-width="1"/>
<rect x="527.5" y="576.5" width="7" height="36.3" fill="#ffff9e" stroke="#40402a" stroke-width="1"/>
<line x1="531.5" y1="573.5" x2="531.5" y2="576" stroke="#5a5a5a" stroke-width="1"/>
<line x1="529.2" y1="573.5" x2="533.8" y2="573.5" stroke="#333333" stroke-width="1.2"/>
<rect x="547" y="553" width="8" height="60.3" fill="#000000"/>
<line x1="551.5" y1="540.5" x2="551.5" y2="553" stroke="#5a5a5a" stroke-width="1"/>
<line x1="549.2" y1="540.5" x2="553.8" y2="540.5" stroke="#333333" stroke-width="1.2"/>
<rect x="560.5" y="502.5" width="7" height="110.3" fill="#ff0000" stroke="#4a0808" stroke-width="1"/>
<line x1="564.5" y1="495.5" x2="564.5" y2="502" stroke="#5a5a5a" stroke-width="1"/>
<line x1="562.2" y1="495.5" x2="566.8" y2="495.5" stroke="#333333" stroke-width="1.2"/>
<rect x="572.5" y="579.5" width="7" height="33.3" fill="#ff6600" stroke="#4a2a10" stroke-width="1"/>
<line x1="576.5" y1="578.5" x2="576.5" y2="579" stroke="#5a5a5a" stroke-width="1"/>
<line x1="574.2" y1="578.5" x2="578.8" y2="578.5" stroke="#333333" stroke-width="1.2"/>
<rect x="585.5" y="583.5" width="7" height="29.3" fill="#f2b07c" stroke="#4a3a30" stroke-width="1"/>
<line x1="589.5" y1="580.5" x2="589.5" y2="583" stroke="#5a5a5a" stroke-width="1"/>
<line x1="587.2" y1="580.5" x2="591.8" y2="580.5" stroke="#333333" stroke-width="1.2"/>
<rect x="598.5" y="567.5" width="7" height="45.3" fill="#ffff9e" stroke="#40402a" stroke-width="1"/>
<line x1="602.5" y1="562.5" x2="602.5" y2="567" stroke="#5a5a5a" stroke-width="1"/>
<line x1="600.2" y1="562.5" x2="604.8" y2="562.5" stroke="#333333" stroke-width="1.2"/>
<rect x="618" y="553" width="8" height="60.3" fill="#000000"/>
<line x1="622.5" y1="540.5" x2="622.5" y2="553" stroke="#5a5a5a" stroke-width="1"/>
<line x1="620.2" y1="540.5" x2="624.8" y2="540.5" stroke="#333333" stroke-width="1.2"/>
<rect x="631.5" y="514.5" width="7" height="98.3" fill="#ff0000" stroke="#4a0808" stroke-width="1"/>
<line x1="635.5" y1="507.5" x2="635.5" y2="514" stroke="#5a5a5a" stroke-width="1"/>
<line x1="633.2" y1="507.5" x2="637.8" y2="507.5" stroke="#333333" stroke-width="1.2"/>
<rect x="644.5" y="575.5" width="7" height="37.3" fill="#ff6600" stroke="#4a2a10" stroke-width="1"/>
<line x1="648.5" y1="572.5" x2="648.5" y2="575" stroke="#5a5a5a" stroke-width="1"/>
<line x1="646.2" y1="572.5" x2="650.8" y2="572.5" stroke="#333333" stroke-width="1.2"/>
<rect x="656.5" y="583.5" width="7" height="29.3" fill="#f2b07c" stroke="#4a3a30" stroke-width="1"/>
<line x1="660.5" y1="581.5" x2="660.5" y2="583" stroke="#5a5a5a" stroke-width="1"/>
<line x1="658.2" y1="581.5" x2="662.8" y2="581.5" stroke="#333333" stroke-width="1.2"/>
<rect x="669.5" y="563.5" width="7" height="49.3" fill="#ffff9e" stroke="#40402a" stroke-width="1"/>
<line x1="673.5" y1="562.5" x2="673.5" y2="563" stroke="#5a5a5a" stroke-width="1"/>
<line x1="671.2" y1="562.5" x2="675.8" y2="562.5" stroke="#333333" stroke-width="1.2"/>
<line x1="471.7" y1="473.6" x2="471.7" y2="614.1" stroke="#000" stroke-width="1.6"/>
<line x1="470.9" y1="613.3" x2="682" y2="613.3" stroke="#000" stroke-width="1.6"/>
<line x1="465.7" y1="473.8" x2="471.7" y2="473.8" stroke="#000" stroke-width="1.3"/>
<text x="463.9" y="477.5" font-size="10.3" text-anchor="end" font-weight="bold">1000</text>
<line x1="465.7" y1="501.7" x2="471.7" y2="501.7" stroke="#000" stroke-width="1.3"/>
<text x="463.9" y="505.4" font-size="10.3" text-anchor="end" font-weight="bold">800</text>
<line x1="465.7" y1="529.6" x2="471.7" y2="529.6" stroke="#000" stroke-width="1.3"/>
<text x="463.9" y="533.3" font-size="10.3" text-anchor="end" font-weight="bold">600</text>
<line x1="465.7" y1="557.5" x2="471.7" y2="557.5" stroke="#000" stroke-width="1.3"/>
<text x="463.9" y="561.2" font-size="10.3" text-anchor="end" font-weight="bold">400</text>
<line x1="465.7" y1="585.4" x2="471.7" y2="585.4" stroke="#000" stroke-width="1.3"/>
<text x="463.9" y="589.1" font-size="10.3" text-anchor="end" font-weight="bold">200</text>
<line x1="465.7" y1="613.3" x2="471.7" y2="613.3" stroke="#000" stroke-width="1.3"/>
<text x="463.9" y="617" font-size="10.3" text-anchor="end" font-weight="bold">0</text>
<line x1="505" y1="613.3" x2="505" y2="619.5" stroke="#000" stroke-width="1.3"/>
<text x="505" y="630.7" font-size="10.4" text-anchor="middle" font-weight="bold">SPHH</text>
<line x1="576.4" y1="613.3" x2="576.4" y2="619.5" stroke="#000" stroke-width="1.3"/>
<text x="576.4" y="630.7" font-size="10.4" text-anchor="middle" font-weight="bold">SPHH-5C</text>
<line x1="647.4" y1="613.3" x2="647.4" y2="619.5" stroke="#000" stroke-width="1.3"/>
<text x="647.4" y="630.7" font-size="10.4" text-anchor="middle" font-weight="bold">PHH-5C</text>
<path d="M505.5 445.6V429.5H647.5V565" stroke="#8a8a8a" stroke-width="1" fill="none"/>
<polygon points="576,419.9 575.38,422.12 573.14,421.55 574.75,423.2 573.14,424.85 575.38,424.28 576,426.5 576.62,424.28 578.86,424.85 577.25,423.2 578.86,421.55 576.62,422.12" fill="#000"/>
<path d="M492.5 472V454.5H635.5V499" stroke="#8a8a8a" stroke-width="1" fill="none"/>
<polygon points="553.2,445 552.58,447.22 550.34,446.65 551.95,448.3 550.34,449.95 552.58,449.38 553.2,451.6 553.83,449.38 556.06,449.95 554.45,448.3 556.06,446.65 553.83,447.22" fill="#000"/>
<polygon points="560.2,445 559.58,447.22 557.34,446.65 558.95,448.3 557.34,449.95 559.58,449.38 560.2,451.6 560.83,449.38 563.06,449.95 561.45,448.3 563.06,446.65 560.83,447.22" fill="#000"/>
<polygon points="567.2,445 566.58,447.22 564.34,446.65 565.95,448.3 564.34,449.95 566.58,449.38 567.2,451.6 567.83,449.38 570.06,449.95 568.45,448.3 570.06,446.65 567.83,447.22" fill="#000"/>
<polygon points="574.2,445 573.58,447.22 571.34,446.65 572.95,448.3 571.34,449.95 573.58,449.38 574.2,451.6 574.83,449.38 577.06,449.95 575.45,448.3 577.06,446.65 574.83,447.22" fill="#000"/>
<path d="M492.5 561.6V478.5H563.5V486" stroke="#8a8a8a" stroke-width="1" fill="none"/>
<polygon points="517.5,469.1 516.88,471.32 514.64,470.75 516.25,472.4 514.64,474.05 516.88,473.48 517.5,475.7 518.12,473.48 520.36,474.05 518.75,472.4 520.36,470.75 518.12,471.32" fill="#000"/>
<polygon points="524.5,469.1 523.88,471.32 521.64,470.75 523.25,472.4 521.64,474.05 523.88,473.48 524.5,475.7 525.12,473.48 527.36,474.05 525.75,472.4 527.36,470.75 525.12,471.32" fill="#000"/>
<polygon points="531.5,469.1 530.88,471.32 528.64,470.75 530.25,472.4 528.64,474.05 530.88,473.48 531.5,475.7 532.12,473.48 534.36,474.05 532.75,472.4 534.36,470.75 532.12,471.32" fill="#000"/>
<polygon points="538.5,469.1 537.88,471.32 535.64,470.75 537.25,472.4 535.64,474.05 537.88,473.48 538.5,475.7 539.12,473.48 541.36,474.05 539.75,472.4 541.36,470.75 539.12,471.32" fill="#000"/>
<text x="564" y="401.7" font-size="11.5" text-anchor="middle">CYP2C9</text>
<text x="461.2" y="447" font-size="17.5" text-anchor="start" font-weight="bold">d</text>
<text transform="translate(420.2,543.5) rotate(-90)" font-size="11.6" text-anchor="middle" font-weight="bold">4-OH-tolbutamide</text>
<text transform="translate(433.3,543.5) rotate(-90)" font-size="11.6" text-anchor="middle" font-weight="bold">(pmol/mg)</text>
<rect x="75" y="572" width="8" height="85" fill="#000000"/>
<line x1="79.5" y1="562.5" x2="79.5" y2="572" stroke="#5a5a5a" stroke-width="1"/>
<line x1="77.2" y1="562.5" x2="81.8" y2="562.5" stroke="#333333" stroke-width="1.2"/>
<rect x="87.5" y="621.5" width="7" height="35" fill="#ff0000" stroke="#4a0808" stroke-width="1"/>
<line x1="91.5" y1="616.5" x2="91.5" y2="621" stroke="#5a5a5a" stroke-width="1"/>
<line x1="89.2" y1="616.5" x2="93.8" y2="616.5" stroke="#333333" stroke-width="1.2"/>
<rect x="100.5" y="648.5" width="7" height="8" fill="#ff6600" stroke="#4a2a10" stroke-width="1"/>
<line x1="104.5" y1="643.5" x2="104.5" y2="648" stroke="#5a5a5a" stroke-width="1"/>
<line x1="102.2" y1="643.5" x2="106.8" y2="643.5" stroke="#333333" stroke-width="1.2"/>
<rect x="112.5" y="654.5" width="7" height="2" fill="#f2b07c" stroke="#4a3a30" stroke-width="1"/>
<line x1="116.5" y1="653.5" x2="116.5" y2="654" stroke="#5a5a5a" stroke-width="1"/>
<line x1="114.2" y1="653.5" x2="118.8" y2="653.5" stroke="#333333" stroke-width="1.2"/>
<rect x="125.5" y="652.5" width="7" height="4" fill="#ffff9e" stroke="#40402a" stroke-width="1"/>
<line x1="129.5" y1="651.5" x2="129.5" y2="652" stroke="#5a5a5a" stroke-width="1"/>
<line x1="127.2" y1="651.5" x2="131.8" y2="651.5" stroke="#333333" stroke-width="1.2"/>
<rect x="146" y="572" width="8" height="85" fill="#000000"/>
<line x1="150.5" y1="562.5" x2="150.5" y2="572" stroke="#5a5a5a" stroke-width="1"/>
<line x1="148.2" y1="562.5" x2="152.8" y2="562.5" stroke="#333333" stroke-width="1.2"/>
<rect x="158.5" y="562.5" width="8" height="94" fill="#ff0000" stroke="#4a0808" stroke-width="1"/>
<line x1="162.5" y1="548.5" x2="162.5" y2="562" stroke="#5a5a5a" stroke-width="1"/>
<line x1="160.2" y1="548.5" x2="164.8" y2="548.5" stroke="#333333" stroke-width="1.2"/>
<rect x="171.5" y="638.5" width="7" height="18" fill="#ff6600" stroke="#4a2a10" stroke-width="1"/>
<line x1="175.5" y1="634.5" x2="175.5" y2="638" stroke="#5a5a5a" stroke-width="1"/>
<line x1="173.2" y1="634.5" x2="177.8" y2="634.5" stroke="#333333" stroke-width="1.2"/>
<rect x="184.5" y="647.5" width="7" height="9" fill="#f2b07c" stroke="#4a3a30" stroke-width="1"/>
<line x1="188.5" y1="646.5" x2="188.5" y2="647" stroke="#5a5a5a" stroke-width="1"/>
<line x1="186.2" y1="646.5" x2="190.8" y2="646.5" stroke="#333333" stroke-width="1.2"/>
<rect x="196.5" y="645.5" width="7" height="11" fill="#ffff9e" stroke="#40402a" stroke-width="1"/>
<line x1="200.5" y1="643.5" x2="200.5" y2="645" stroke="#5a5a5a" stroke-width="1"/>
<line x1="198.2" y1="643.5" x2="202.8" y2="643.5" stroke="#333333" stroke-width="1.2"/>
<rect x="217" y="572" width="8" height="85" fill="#000000"/>
<line x1="221.5" y1="562.5" x2="221.5" y2="572" stroke="#5a5a5a" stroke-width="1"/>
<line x1="219.2" y1="562.5" x2="223.8" y2="562.5" stroke="#333333" stroke-width="1.2"/>
<rect x="229.5" y="606.5" width="8" height="50" fill="#ff0000" stroke="#4a0808" stroke-width="1"/>
<line x1="233.5" y1="593.5" x2="233.5" y2="606" stroke="#5a5a5a" stroke-width="1"/>
<line x1="231.2" y1="593.5" x2="235.8" y2="593.5" stroke="#333333" stroke-width="1.2"/>
<rect x="242.5" y="645.5" width="7" height="11" fill="#ff6600" stroke="#4a2a10" stroke-width="1"/>
<line x1="246.5" y1="640.5" x2="246.5" y2="645" stroke="#5a5a5a" stroke-width="1"/>
<line x1="244.2" y1="640.5" x2="248.8" y2="640.5" stroke="#333333" stroke-width="1.2"/>
<rect x="255.5" y="654.5" width="7" height="2" fill="#f2b07c" stroke="#4a3a30" stroke-width="1"/>
<line x1="259.5" y1="652.5" x2="259.5" y2="654" stroke="#5a5a5a" stroke-width="1"/>
<line x1="257.2" y1="652.5" x2="261.8" y2="652.5" stroke="#333333" stroke-width="1.2"/>
<rect x="267.5" y="654.5" width="7" height="2" fill="#ffff9e" stroke="#40402a" stroke-width="1"/>
<line x1="271.5" y1="653.5" x2="271.5" y2="654" stroke="#5a5a5a" stroke-width="1"/>
<line x1="269.2" y1="653.5" x2="273.8" y2="653.5" stroke="#333333" stroke-width="1.2"/>
<line x1="70" y1="517.6" x2="70" y2="657.8" stroke="#000" stroke-width="1.6"/>
<line x1="69.2" y1="657" x2="280" y2="657" stroke="#000" stroke-width="1.6"/>
<line x1="64" y1="517.8" x2="70" y2="517.8" stroke="#000" stroke-width="1.3"/>
<text x="62.2" y="521.5" font-size="10.3" text-anchor="end" font-weight="bold">500</text>
<line x1="64" y1="545.6" x2="70" y2="545.6" stroke="#000" stroke-width="1.3"/>
<text x="62.2" y="549.3" font-size="10.3" text-anchor="end" font-weight="bold">400</text>
<line x1="64" y1="573.4" x2="70" y2="573.4" stroke="#000" stroke-width="1.3"/>
<text x="62.2" y="577.1" font-size="10.3" text-anchor="end" font-weight="bold">300</text>
<line x1="64" y1="601.2" x2="70" y2="601.2" stroke="#000" stroke-width="1.3"/>
<text x="62.2" y="604.9" font-size="10.3" text-anchor="end" font-weight="bold">200</text>
<line x1="64" y1="629.1" x2="70" y2="629.1" stroke="#000" stroke-width="1.3"/>
<text x="62.2" y="632.8" font-size="10.3" text-anchor="end" font-weight="bold">100</text>
<line x1="64" y1="657" x2="70" y2="657" stroke="#000" stroke-width="1.3"/>
<text x="62.2" y="660.7" font-size="10.3" text-anchor="end" font-weight="bold">0</text>
<line x1="103.6" y1="657" x2="103.6" y2="663.2" stroke="#000" stroke-width="1.3"/>
<text x="103.6" y="674.4" font-size="10.4" text-anchor="middle" font-weight="bold">SPHH</text>
<line x1="175" y1="657" x2="175" y2="663.2" stroke="#000" stroke-width="1.3"/>
<text x="175" y="674.4" font-size="10.4" text-anchor="middle" font-weight="bold">SPHH-5C</text>
<line x1="246" y1="657" x2="246" y2="663.2" stroke="#000" stroke-width="1.3"/>
<text x="246" y="674.4" font-size="10.4" text-anchor="middle" font-weight="bold">PHH-5C</text>
<path d="M91.5 523.6V507.5H233.5V523" stroke="#8a8a8a" stroke-width="1" fill="none"/>
<polygon points="162,497.9 161.38,500.12 159.14,499.55 160.75,501.2 159.14,502.85 161.38,502.28 162,504.5 162.62,502.28 164.86,502.85 163.25,501.2 164.86,499.55 162.62,500.12" fill="#000"/>
<path d="M91.5 608V531.5H159.5V540" stroke="#8a8a8a" stroke-width="1" fill="none"/>
<polygon points="114.3,522.3 113.67,524.52 111.44,523.95 113.05,525.6 111.44,527.25 113.67,526.68 114.3,528.9 114.92,526.68 117.16,527.25 115.55,525.6 117.16,523.95 114.92,524.52" fill="#000"/>
<polygon points="121.3,522.3 120.67,524.52 118.44,523.95 120.05,525.6 118.44,527.25 120.67,526.68 121.3,528.9 121.92,526.68 124.16,527.25 122.55,525.6 124.16,523.95 121.92,524.52" fill="#000"/>
<polygon points="128.3,522.3 127.68,524.52 125.44,523.95 127.05,525.6 125.44,527.25 127.68,526.68 128.3,528.9 128.93,526.68 131.16,527.25 129.55,525.6 131.16,523.95 128.93,524.52" fill="#000"/>
<polygon points="135.3,522.3 134.68,524.52 132.44,523.95 134.05,525.6 132.44,527.25 134.68,526.68 135.3,528.9 135.93,526.68 138.16,527.25 136.55,525.6 138.16,523.95 135.93,524.52" fill="#000"/>
<path d="M164.5 540V531.5H233.5V586" stroke="#8a8a8a" stroke-width="1" fill="none"/>
<polygon points="188.5,522.3 187.88,524.52 185.64,523.95 187.25,525.6 185.64,527.25 187.88,526.68 188.5,528.9 189.12,526.68 191.36,527.25 189.75,525.6 191.36,523.95 189.12,524.52" fill="#000"/>
<polygon points="195.5,522.3 194.88,524.52 192.64,523.95 194.25,525.6 192.64,527.25 194.88,526.68 195.5,528.9 196.12,526.68 198.36,527.25 196.75,525.6 198.36,523.95 196.12,524.52" fill="#000"/>
<polygon points="202.5,522.3 201.88,524.52 199.64,523.95 201.25,525.6 199.64,527.25 201.88,526.68 202.5,528.9 203.12,526.68 205.36,527.25 203.75,525.6 205.36,523.95 203.12,524.52" fill="#000"/>
<polygon points="209.5,522.3 208.88,524.52 206.64,523.95 208.25,525.6 206.64,527.25 208.88,526.68 209.5,528.9 210.12,526.68 212.36,527.25 210.75,525.6 212.36,523.95 210.12,524.52" fill="#000"/>
<text x="162.2" y="487.4" font-size="11.5" text-anchor="middle">CYP2C19</text>
<text x="57.8" y="499.6" font-size="17.5" text-anchor="start" font-weight="bold">e</text>
<text transform="translate(24.6,587.3) rotate(-90)" font-size="11.6" text-anchor="middle" font-weight="bold">4-OH-S-mephenytoin</text>
<text transform="translate(38.2,587.3) rotate(-90)" font-size="11.6" text-anchor="middle" font-weight="bold">(pmol/mg)</text>
<rect x="477" y="840" width="10" height="114.5" fill="#000000"/>
<line x1="482.5" y1="832.5" x2="482.5" y2="840" stroke="#5a5a5a" stroke-width="1"/>
<line x1="480.2" y1="832.5" x2="484.8" y2="832.5" stroke="#333333" stroke-width="1.2"/>
<rect x="492.5" y="917.5" width="9" height="36.5" fill="#ff0000" stroke="#4a0808" stroke-width="1"/>
<line x1="497.5" y1="916.5" x2="497.5" y2="917" stroke="#5a5a5a" stroke-width="1"/>
<line x1="495.2" y1="916.5" x2="499.8" y2="916.5" stroke="#333333" stroke-width="1.2"/>
<rect x="508.5" y="936.5" width="8" height="17.5" fill="#f2b07c" stroke="#4a3a30" stroke-width="1"/>
<line x1="512.5" y1="934.5" x2="512.5" y2="936" stroke="#5a5a5a" stroke-width="1"/>
<line x1="510.2" y1="934.5" x2="514.8" y2="934.5" stroke="#333333" stroke-width="1.2"/>
<rect x="523.5" y="934.5" width="9" height="19.5" fill="#ffff9e" stroke="#40402a" stroke-width="1"/>
<line x1="528.5" y1="933.5" x2="528.5" y2="934" stroke="#5a5a5a" stroke-width="1"/>
<line x1="526.2" y1="933.5" x2="530.8" y2="933.5" stroke="#333333" stroke-width="1.2"/>
<rect x="548" y="840" width="10" height="114.5" fill="#000000"/>
<line x1="553.5" y1="832.5" x2="553.5" y2="840" stroke="#5a5a5a" stroke-width="1"/>
<line x1="551.2" y1="832.5" x2="555.8" y2="832.5" stroke="#333333" stroke-width="1.2"/>
<rect x="564.5" y="898.5" width="8" height="55.5" fill="#ff0000" stroke="#4a0808" stroke-width="1"/>
<line x1="568.5" y1="896.5" x2="568.5" y2="898" stroke="#5a5a5a" stroke-width="1"/>
<line x1="566.2" y1="896.5" x2="570.8" y2="896.5" stroke="#333333" stroke-width="1.2"/>
<rect x="579.5" y="889.5" width="9" height="64.5" fill="#f2b07c" stroke="#4a3a30" stroke-width="1"/>
<line x1="584.5" y1="884.5" x2="584.5" y2="889" stroke="#5a5a5a" stroke-width="1"/>
<line x1="582.2" y1="884.5" x2="586.8" y2="884.5" stroke="#333333" stroke-width="1.2"/>
<rect x="594.5" y="887.5" width="9" height="66.5" fill="#ffff9e" stroke="#40402a" stroke-width="1"/>
<line x1="599.5" y1="882.5" x2="599.5" y2="887" stroke="#5a5a5a" stroke-width="1"/>
<line x1="597.2" y1="882.5" x2="601.8" y2="882.5" stroke="#333333" stroke-width="1.2"/>
<rect x="620" y="840" width="10" height="114.5" fill="#000000"/>
<line x1="625.5" y1="832.5" x2="625.5" y2="840" stroke="#5a5a5a" stroke-width="1"/>
<line x1="623.2" y1="832.5" x2="627.8" y2="832.5" stroke="#333333" stroke-width="1.2"/>
<rect x="635.5" y="905.5" width="9" height="48.5" fill="#ff0000" stroke="#4a0808" stroke-width="1"/>
<line x1="640.5" y1="903.5" x2="640.5" y2="905" stroke="#5a5a5a" stroke-width="1"/>
<line x1="638.2" y1="903.5" x2="642.8" y2="903.5" stroke="#333333" stroke-width="1.2"/>
<rect x="650.5" y="896.5" width="9" height="57.5" fill="#f2b07c" stroke="#4a3a30" stroke-width="1"/>
<line x1="655.5" y1="891.5" x2="655.5" y2="896" stroke="#5a5a5a" stroke-width="1"/>
<line x1="653.2" y1="891.5" x2="657.8" y2="891.5" stroke="#333333" stroke-width="1.2"/>
<rect x="666.5" y="892.5" width="9" height="61.5" fill="#ffff9e" stroke="#40402a" stroke-width="1"/>
<line x1="671.5" y1="889.5" x2="671.5" y2="892" stroke="#5a5a5a" stroke-width="1"/>
<line x1="669.2" y1="889.5" x2="673.8" y2="889.5" stroke="#333333" stroke-width="1.2"/>
<line x1="471.7" y1="814.6" x2="471.7" y2="955.3" stroke="#000" stroke-width="1.6"/>
<line x1="470.9" y1="954.5" x2="681.5" y2="954.5" stroke="#000" stroke-width="1.6"/>
<line x1="465.7" y1="814.7" x2="471.7" y2="814.7" stroke="#000" stroke-width="1.3"/>
<text x="463.9" y="818.4" font-size="10.3" text-anchor="end" font-weight="bold">4000</text>
<line x1="465.7" y1="849.7" x2="471.7" y2="849.7" stroke="#000" stroke-width="1.3"/>
<text x="463.9" y="853.4" font-size="10.3" text-anchor="end" font-weight="bold">3000</text>
<line x1="465.7" y1="884.6" x2="471.7" y2="884.6" stroke="#000" stroke-width="1.3"/>
<text x="463.9" y="888.3" font-size="10.3" text-anchor="end" font-weight="bold">2000</text>
<line x1="465.7" y1="919.5" x2="471.7" y2="919.5" stroke="#000" stroke-width="1.3"/>
<text x="463.9" y="923.2" font-size="10.3" text-anchor="end" font-weight="bold">1000</text>
<line x1="465.7" y1="954.5" x2="471.7" y2="954.5" stroke="#000" stroke-width="1.3"/>
<text x="463.9" y="958.2" font-size="10.3" text-anchor="end" font-weight="bold">0</text>
<line x1="504.6" y1="954.5" x2="504.6" y2="960.7" stroke="#000" stroke-width="1.3"/>
<text x="504.6" y="971.9" font-size="10.4" text-anchor="middle" font-weight="bold">SPHH</text>
<line x1="576.4" y1="954.5" x2="576.4" y2="960.7" stroke="#000" stroke-width="1.3"/>
<text x="576.4" y="971.9" font-size="10.4" text-anchor="middle" font-weight="bold">SPHH-5C</text>
<line x1="647.8" y1="954.5" x2="647.8" y2="960.7" stroke="#000" stroke-width="1.3"/>
<text x="647.8" y="971.9" font-size="10.4" text-anchor="middle" font-weight="bold">PHH-5C</text>
<path d="M527.5 709.6V693.5H670.5V881" stroke="#8a8a8a" stroke-width="1" fill="none"/>
<polygon points="588.5,684.3 587.88,686.52 585.64,685.95 587.25,687.6 585.64,689.25 587.88,688.68 588.5,690.9 589.12,688.68 591.36,689.25 589.75,687.6 591.36,685.95 589.12,686.52" fill="#000"/>
<polygon points="595.5,684.3 594.88,686.52 592.64,685.95 594.25,687.6 592.64,689.25 594.88,688.68 595.5,690.9 596.12,688.68 598.36,689.25 596.75,687.6 598.36,685.95 596.12,686.52" fill="#000"/>
<polygon points="602.5,684.3 601.88,686.52 599.64,685.95 601.25,687.6 599.64,689.25 601.88,688.68 602.5,690.9 603.12,688.68 605.36,689.25 603.75,687.6 605.36,685.95 603.12,686.52" fill="#000"/>
<polygon points="609.5,684.3 608.88,686.52 606.64,685.95 608.25,687.6 606.64,689.25 608.88,688.68 609.5,690.9 610.12,688.68 612.36,689.25 610.75,687.6 612.36,685.95 610.12,686.52" fill="#000"/>
<path d="M512.5 734V718.5H655.5V882.4" stroke="#8a8a8a" stroke-width="1" fill="none"/>
<polygon points="573.1,709 572.48,711.22 570.24,710.65 571.85,712.3 570.24,713.95 572.48,713.38 573.1,715.6 573.73,713.38 575.96,713.95 574.35,712.3 575.96,710.65 573.73,711.22" fill="#000"/>
<polygon points="580.1,709 579.48,711.22 577.24,710.65 578.85,712.3 577.24,713.95 579.48,713.38 580.1,715.6 580.73,713.38 582.96,713.95 581.35,712.3 582.96,710.65 580.73,711.22" fill="#000"/>
<polygon points="587.1,709 586.48,711.22 584.24,710.65 585.85,712.3 584.24,713.95 586.48,713.38 587.1,715.6 587.73,713.38 589.96,713.95 588.35,712.3 589.96,710.65 587.73,711.22" fill="#000"/>
<polygon points="594.1,709 593.48,711.22 591.24,710.65 592.85,712.3 591.24,713.95 593.48,713.38 594.1,715.6 594.73,713.38 596.96,713.95 595.35,712.3 596.96,710.65 594.73,711.22" fill="#000"/>
<path d="M496.5 783V742.5H640.5V894" stroke="#8a8a8a" stroke-width="1" fill="none"/>
<polygon points="564.5,733.2 563.88,735.42 561.64,734.85 563.25,736.5 561.64,738.15 563.88,737.58 564.5,739.8 565.12,737.58 567.36,738.15 565.75,736.5 567.36,734.85 565.12,735.42" fill="#000"/>
<polygon points="571.5,733.2 570.88,735.42 568.64,734.85 570.25,736.5 568.64,738.15 570.88,737.58 571.5,739.8 572.12,737.58 574.36,738.15 572.75,736.5 574.36,734.85 572.12,735.42" fill="#000"/>
<path d="M527.5 775V767.5H599.5V874.4" stroke="#8a8a8a" stroke-width="1" fill="none"/>
<polygon points="552.5,757.7 551.88,759.92 549.64,759.35 551.25,761 549.64,762.65 551.88,762.08 552.5,764.3 553.12,762.08 555.36,762.65 553.75,761 555.36,759.35 553.12,759.92" fill="#000"/>
<polygon points="559.5,757.7 558.88,759.92 556.64,759.35 558.25,761 556.64,762.65 558.88,762.08 559.5,764.3 560.12,762.08 562.36,762.65 560.75,761 562.36,759.35 560.12,759.92" fill="#000"/>
<polygon points="566.5,757.7 565.88,759.92 563.64,759.35 565.25,761 563.64,762.65 565.88,762.08 566.5,764.3 567.12,762.08 569.36,762.65 567.75,761 569.36,759.35 567.12,759.92" fill="#000"/>
<polygon points="573.5,757.7 572.88,759.92 570.64,759.35 572.25,761 570.64,762.65 572.88,762.08 573.5,764.3 574.12,762.08 576.36,762.65 574.75,761 576.36,759.35 574.12,759.92" fill="#000"/>
<path d="M496.5 907.6V791.5H568.5V799.6" stroke="#8a8a8a" stroke-width="1" fill="none"/>
<polygon points="522.2,782.3 521.58,784.52 519.34,783.95 520.95,785.6 519.34,787.25 521.58,786.68 522.2,788.9 522.83,786.68 525.06,787.25 523.45,785.6 525.06,783.95 522.83,784.52" fill="#000"/>
<polygon points="529.2,782.3 528.58,784.52 526.34,783.95 527.95,785.6 526.34,787.25 528.58,786.68 529.2,788.9 529.83,786.68 532.06,787.25 530.45,785.6 532.06,783.95 529.83,784.52" fill="#000"/>
<polygon points="536.2,782.3 535.58,784.52 533.34,783.95 534.95,785.6 533.34,787.25 535.58,786.68 536.2,788.9 536.83,786.68 539.06,787.25 537.45,785.6 539.06,783.95 536.83,784.52" fill="#000"/>
<polygon points="543.2,782.3 542.58,784.52 540.34,783.95 541.95,785.6 540.34,787.25 542.58,786.68 543.2,788.9 543.83,786.68 546.06,787.25 544.45,785.6 546.06,783.95 543.83,784.52" fill="#000"/>
<path d="M512.5 927V815.5H583.5V876" stroke="#8a8a8a" stroke-width="1" fill="none"/>
<polygon points="537.5,806.3 536.88,808.52 534.64,807.95 536.25,809.6 534.64,811.25 536.88,810.68 537.5,812.9 538.12,810.68 540.36,811.25 538.75,809.6 540.36,807.95 538.12,808.52" fill="#000"/>
<polygon points="544.5,806.3 543.88,808.52 541.64,807.95 543.25,809.6 541.64,811.25 543.88,810.68 544.5,812.9 545.12,810.68 547.36,811.25 545.75,809.6 547.36,807.95 545.12,808.52" fill="#000"/>
<polygon points="551.5,806.3 550.88,808.52 548.64,807.95 550.25,809.6 548.64,811.25 550.88,810.68 551.5,812.9 552.12,810.68 554.36,811.25 552.75,809.6 554.36,807.95 552.12,808.52" fill="#000"/>
<polygon points="558.5,806.3 557.88,808.52 555.64,807.95 557.25,809.6 555.64,811.25 557.88,810.68 558.5,812.9 559.12,810.68 561.36,811.25 559.75,809.6 561.36,807.95 559.12,808.52" fill="#000"/>
<text x="563" y="680" font-size="11.5" text-anchor="middle">CYP2D6</text>
<text x="461.6" y="797" font-size="17.5" text-anchor="start" font-weight="bold">f</text>
<text transform="translate(420.2,884.6) rotate(-90)" font-size="11.6" text-anchor="middle" font-weight="bold">Dextrorphan</text>
<text transform="translate(433.3,884.6) rotate(-90)" font-size="11.6" text-anchor="middle" font-weight="bold">(pmol/mg)</text>
<rect x="75" y="848" width="8" height="91.2" fill="#000000"/>
<line x1="79.5" y1="843.5" x2="79.5" y2="848" stroke="#5a5a5a" stroke-width="1"/>
<line x1="77.2" y1="843.5" x2="81.8" y2="843.5" stroke="#333333" stroke-width="1.2"/>
<rect x="87.5" y="862.5" width="7" height="76.2" fill="#ff0000" stroke="#4a0808" stroke-width="1"/>
<line x1="91.5" y1="859.5" x2="91.5" y2="862" stroke="#5a5a5a" stroke-width="1"/>
<line x1="89.2" y1="859.5" x2="93.8" y2="859.5" stroke="#333333" stroke-width="1.2"/>
<rect x="100.5" y="865.5" width="7" height="73.2" fill="#ff6600" stroke="#4a2a10" stroke-width="1"/>
<line x1="104.5" y1="860.5" x2="104.5" y2="865" stroke="#5a5a5a" stroke-width="1"/>
<line x1="102.2" y1="860.5" x2="106.8" y2="860.5" stroke="#333333" stroke-width="1.2"/>
<rect x="112.5" y="873.5" width="7" height="65.2" fill="#f2b07c" stroke="#4a3a30" stroke-width="1"/>
<line x1="116.5" y1="871.5" x2="116.5" y2="873" stroke="#5a5a5a" stroke-width="1"/>
<line x1="114.2" y1="871.5" x2="118.8" y2="871.5" stroke="#333333" stroke-width="1.2"/>
<rect x="125.5" y="893.5" width="7" height="45.2" fill="#ffff9e" stroke="#40402a" stroke-width="1"/>
<line x1="129.5" y1="888.5" x2="129.5" y2="893" stroke="#5a5a5a" stroke-width="1"/>
<line x1="127.2" y1="888.5" x2="131.8" y2="888.5" stroke="#333333" stroke-width="1.2"/>
<rect x="146" y="848" width="8" height="91.2" fill="#000000"/>
<line x1="150.5" y1="843.5" x2="150.5" y2="848" stroke="#5a5a5a" stroke-width="1"/>
<line x1="148.2" y1="843.5" x2="152.8" y2="843.5" stroke="#333333" stroke-width="1.2"/>
<rect x="158.5" y="842.5" width="8" height="96.2" fill="#ff0000" stroke="#4a0808" stroke-width="1"/>
<line x1="162.5" y1="835.5" x2="162.5" y2="842" stroke="#5a5a5a" stroke-width="1"/>
<line x1="160.2" y1="835.5" x2="164.8" y2="835.5" stroke="#333333" stroke-width="1.2"/>
<rect x="171.5" y="866.5" width="7" height="72.2" fill="#ff6600" stroke="#4a2a10" stroke-width="1"/>
<line x1="175.5" y1="862.5" x2="175.5" y2="866" stroke="#5a5a5a" stroke-width="1"/>
<line x1="173.2" y1="862.5" x2="177.8" y2="862.5" stroke="#333333" stroke-width="1.2"/>
<rect x="184.5" y="889.5" width="7" height="49.2" fill="#f2b07c" stroke="#4a3a30" stroke-width="1"/>
<line x1="188.5" y1="886.5" x2="188.5" y2="889" stroke="#5a5a5a" stroke-width="1"/>
<line x1="186.2" y1="886.5" x2="190.8" y2="886.5" stroke="#333333" stroke-width="1.2"/>
<rect x="196.5" y="889.5" width="7" height="49.2" fill="#ffff9e" stroke="#40402a" stroke-width="1"/>
<line x1="200.5" y1="884.5" x2="200.5" y2="889" stroke="#5a5a5a" stroke-width="1"/>
<line x1="198.2" y1="884.5" x2="202.8" y2="884.5" stroke="#333333" stroke-width="1.2"/>
<rect x="217" y="848" width="8" height="91.2" fill="#000000"/>
<line x1="221.5" y1="843.5" x2="221.5" y2="848" stroke="#5a5a5a" stroke-width="1"/>
<line x1="219.2" y1="843.5" x2="223.8" y2="843.5" stroke="#333333" stroke-width="1.2"/>
<rect x="230.5" y="834.5" width="7" height="104.2" fill="#ff0000" stroke="#4a0808" stroke-width="1"/>
<line x1="234.5" y1="829.5" x2="234.5" y2="834" stroke="#5a5a5a" stroke-width="1"/>
<line x1="232.2" y1="829.5" x2="236.8" y2="829.5" stroke="#333333" stroke-width="1.2"/>
<rect x="242.5" y="862.5" width="8" height="76.2" fill="#ff6600" stroke="#4a2a10" stroke-width="1"/>
<line x1="246.5" y1="858.5" x2="246.5" y2="862" stroke="#5a5a5a" stroke-width="1"/>
<line x1="244.2" y1="858.5" x2="248.8" y2="858.5" stroke="#333333" stroke-width="1.2"/>
<rect x="255.5" y="877.5" width="7" height="61.2" fill="#f2b07c" stroke="#4a3a30" stroke-width="1"/>
<line x1="259.5" y1="876.5" x2="259.5" y2="877" stroke="#5a5a5a" stroke-width="1"/>
<line x1="257.2" y1="876.5" x2="261.8" y2="876.5" stroke="#333333" stroke-width="1.2"/>
<rect x="268.5" y="884.5" width="7" height="54.2" fill="#ffff9e" stroke="#40402a" stroke-width="1"/>
<line x1="272.5" y1="882.5" x2="272.5" y2="884" stroke="#5a5a5a" stroke-width="1"/>
<line x1="270.2" y1="882.5" x2="274.8" y2="882.5" stroke="#333333" stroke-width="1.2"/>
<line x1="70" y1="799.6" x2="70" y2="940" stroke="#000" stroke-width="1.6"/>
<line x1="69.2" y1="939.2" x2="280" y2="939.2" stroke="#000" stroke-width="1.6"/>
<line x1="64" y1="799.8" x2="70" y2="799.8" stroke="#000" stroke-width="1.3"/>
<text x="62.2" y="803.5" font-size="10.3" text-anchor="end" font-weight="bold">5000</text>
<line x1="64" y1="827.7" x2="70" y2="827.7" stroke="#000" stroke-width="1.3"/>
<text x="62.2" y="831.4" font-size="10.3" text-anchor="end" font-weight="bold">4000</text>
<line x1="64" y1="855.6" x2="70" y2="855.6" stroke="#000" stroke-width="1.3"/>
<text x="62.2" y="859.3" font-size="10.3" text-anchor="end" font-weight="bold">3000</text>
<line x1="64" y1="883.4" x2="70" y2="883.4" stroke="#000" stroke-width="1.3"/>
<text x="62.2" y="887.1" font-size="10.3" text-anchor="end" font-weight="bold">2000</text>
<line x1="64" y1="911.3" x2="70" y2="911.3" stroke="#000" stroke-width="1.3"/>
<text x="62.2" y="915" font-size="10.3" text-anchor="end" font-weight="bold">1000</text>
<line x1="64" y1="939.2" x2="70" y2="939.2" stroke="#000" stroke-width="1.3"/>
<text x="62.2" y="942.9" font-size="10.3" text-anchor="end" font-weight="bold">0</text>
<line x1="103.6" y1="939.2" x2="103.6" y2="945.4" stroke="#000" stroke-width="1.3"/>
<text x="103.6" y="956.6" font-size="10.4" text-anchor="middle" font-weight="bold">SPHH</text>
<line x1="175" y1="939.2" x2="175" y2="945.4" stroke="#000" stroke-width="1.3"/>
<text x="175" y="956.6" font-size="10.4" text-anchor="middle" font-weight="bold">SPHH-5C</text>
<line x1="246.4" y1="939.2" x2="246.4" y2="945.4" stroke="#000" stroke-width="1.3"/>
<text x="246.4" y="956.6" font-size="10.4" text-anchor="middle" font-weight="bold">PHH-5C</text>
<path d="M129.5 755.4V739.5H271.5V874.4" stroke="#8a8a8a" stroke-width="1" fill="none"/>
<polygon points="200,729.9 199.38,732.12 197.14,731.55 198.75,733.2 197.14,734.85 199.38,734.28 200,736.5 200.62,734.28 202.86,734.85 201.25,733.2 202.86,731.55 200.62,732.12" fill="#000"/>
<path d="M91.5 804V763.5H233.5V796" stroke="#8a8a8a" stroke-width="1" fill="none"/>
<polygon points="151.9,754.3 151.28,756.52 149.04,755.95 150.65,757.6 149.04,759.25 151.28,758.68 151.9,760.9 152.53,758.68 154.76,759.25 153.15,757.6 154.76,755.95 152.53,756.52" fill="#000"/>
<polygon points="158.9,754.3 158.28,756.52 156.04,755.95 157.65,757.6 156.04,759.25 158.28,758.68 158.9,760.9 159.53,758.68 161.76,759.25 160.15,757.6 161.76,755.95 159.53,756.52" fill="#000"/>
<polygon points="165.9,754.3 165.28,756.52 163.04,755.95 164.65,757.6 163.04,759.25 165.28,758.68 165.9,760.9 166.53,758.68 168.76,759.25 167.15,757.6 168.76,755.95 166.53,756.52" fill="#000"/>
<polygon points="172.9,754.3 172.28,756.52 170.04,755.95 171.65,757.6 170.04,759.25 172.28,758.68 172.9,760.9 173.53,758.68 175.76,759.25 174.15,757.6 175.76,755.95 173.53,756.52" fill="#000"/>
<path d="M116.5 796.4V788.5H187.5V804" stroke="#8a8a8a" stroke-width="1" fill="none"/>
<polygon points="141.3,778.9 140.68,781.12 138.44,780.55 140.05,782.2 138.44,783.85 140.68,783.28 141.3,785.5 141.93,783.28 144.16,783.85 142.55,782.2 144.16,780.55 141.93,781.12" fill="#000"/>
<polygon points="148.3,778.9 147.68,781.12 145.44,780.55 147.05,782.2 145.44,783.85 147.68,783.28 148.3,785.5 148.93,783.28 151.16,783.85 149.55,782.2 151.16,780.55 148.93,781.12" fill="#000"/>
<polygon points="155.3,778.9 154.68,781.12 152.44,780.55 154.05,782.2 152.44,783.85 154.68,783.28 155.3,785.5 155.93,783.28 158.16,783.85 156.55,782.2 158.16,780.55 155.93,781.12" fill="#000"/>
<polygon points="162.3,778.9 161.68,781.12 159.44,780.55 161.05,782.2 159.44,783.85 161.68,783.28 162.3,785.5 162.93,783.28 165.16,783.85 163.55,782.2 165.16,780.55 162.93,781.12" fill="#000"/>
<path d="M91.5 851V812.5H162.5V826.4" stroke="#8a8a8a" stroke-width="1" fill="none"/>
<polygon points="116.3,803.2 115.67,805.42 113.44,804.85 115.05,806.5 113.44,808.15 115.67,807.58 116.3,809.8 116.92,807.58 119.16,808.15 117.55,806.5 119.16,804.85 116.92,805.42" fill="#000"/>
<polygon points="123.3,803.2 122.67,805.42 120.44,804.85 122.05,806.5 120.44,808.15 122.67,807.58 123.3,809.8 123.92,807.58 126.16,808.15 124.55,806.5 126.16,804.85 123.92,805.42" fill="#000"/>
<polygon points="130.3,803.2 129.68,805.42 127.44,804.85 129.05,806.5 127.44,808.15 129.68,807.58 130.3,809.8 130.93,807.58 133.16,808.15 131.55,806.5 133.16,804.85 130.93,805.42" fill="#000"/>
<polygon points="137.3,803.2 136.68,805.42 134.44,804.85 136.05,806.5 134.44,808.15 136.68,807.58 137.3,809.8 137.93,807.58 140.16,808.15 138.55,806.5 140.16,804.85 137.93,805.42" fill="#000"/>
<path d="M187.5 877.6V812.5H258.5V868" stroke="#8a8a8a" stroke-width="1" fill="none"/>
<polygon points="219.7,803.2 219.07,805.42 216.84,804.85 218.45,806.5 216.84,808.15 219.07,807.58 219.7,809.8 220.32,807.58 222.56,808.15 220.95,806.5 222.56,804.85 220.32,805.42" fill="#000"/>
<polygon points="226.7,803.2 226.07,805.42 223.84,804.85 225.45,806.5 223.84,808.15 226.07,807.58 226.7,809.8 227.32,807.58 229.56,808.15 227.95,806.5 229.56,804.85 227.32,805.42" fill="#000"/>
<text x="162.5" y="727.6" font-size="11.5" text-anchor="middle">CYP3A4</text>
<text x="57.6" y="781" font-size="17.5" text-anchor="start" font-weight="bold">g</text>
<text transform="translate(19.4,869.4) rotate(-90)" font-size="11.6" text-anchor="middle" font-weight="bold">1-OH-midazolam</text>
<text transform="translate(32.9,869.4) rotate(-90)" font-size="11.6" text-anchor="middle" font-weight="bold">(pmol/mg)</text>
<rect x="310" y="66.7" width="14.6" height="7" fill="#000000"/>
<text x="333.4" y="74.1" font-size="11.3" text-anchor="start">Day 0</text>
<rect x="310.5" y="85.9" width="13.6" height="6" fill="#ff0000" stroke="#4a0808" stroke-width="1"/>
<text x="333.4" y="92.8" font-size="11.3" text-anchor="start">Day 4</text>
<rect x="310.5" y="104.3" width="13.6" height="6" fill="#ff6600" stroke="#4a2a10" stroke-width="1"/>
<text x="333.4" y="111.2" font-size="11.3" text-anchor="start">Day 7</text>
<rect x="310.5" y="123" width="13.6" height="6" fill="#f2b07c" stroke="#4a3a30" stroke-width="1"/>
<text x="333.4" y="129.9" font-size="11.3" text-anchor="start">Day 14</text>
<rect x="310.5" y="141.6" width="13.6" height="6" fill="#ffff9e" stroke="#40402a" stroke-width="1"/>
<text x="333.4" y="148.5" font-size="11.3" text-anchor="start">Day 21</text>
</svg>
</body></html>
